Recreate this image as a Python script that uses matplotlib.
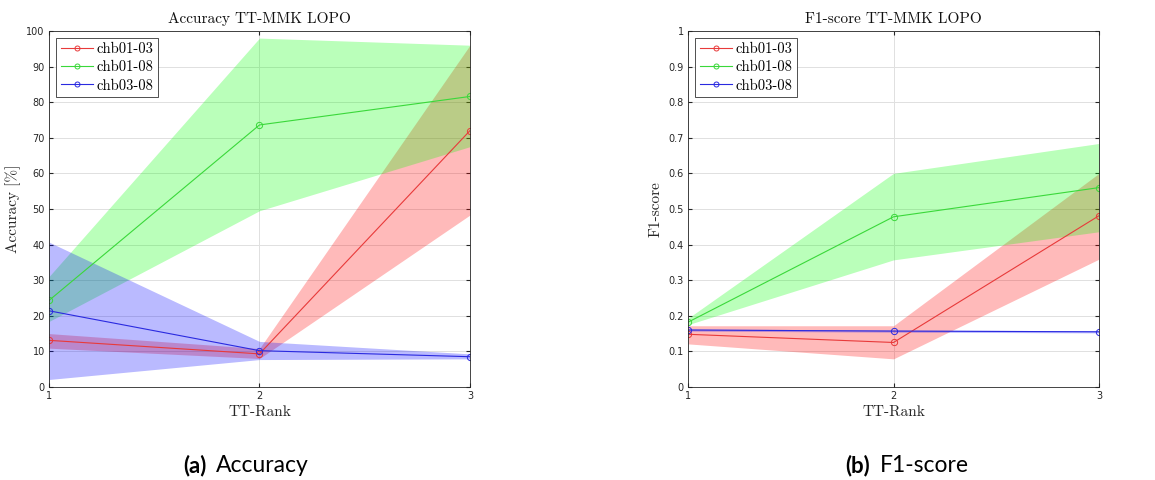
import numpy as np
import matplotlib
matplotlib.use("Agg")
import matplotlib.pyplot as plt

# TT-rank on the x axis
ranks = [1, 2, 3]
labels = ["chb01-03", "chb01-08", "chb03-08"]

# accuracy [%]: mean, upper and lower edge of the shaded band
acc_mean = [[13.1, 9.3, 72.0], [24.3, 73.6, 81.6], [21.4, 10.2, 8.5]]
acc_hi = [[15.0, 10.8, 96.0], [31.0, 98.0, 96.0], [40.7, 12.8, 9.3]]
acc_lo = [[10.9, 8.0, 48.3], [18.4, 49.5, 67.5], [2.1, 7.7, 7.9]]

# F1-score: mean, upper and lower edge of the band
f1_mean = [[0.148, 0.125, 0.481], [0.182, 0.478, 0.560], [0.160, 0.157, 0.155]]
f1_hi = [[0.172, 0.172, 0.600], [0.193, 0.600, 0.684], [0.163, 0.160, 0.158]]
f1_lo = [[0.121, 0.079, 0.359], [0.175, 0.357, 0.436], [0.157, 0.154, 0.152]]

colors = [(1, 0, 0), (0, 1, 0), (0, 0, 1)]
line_colors = ["#e83a3a", "#3ad83a", "#2a2ae0"]

serif = "cmr10"


def panel(ax, mean, hi, lo, ymax, yticks, ytlabels, ylabel, title):
    for k in range(3):
        ax.fill_between(ranks, lo[k], hi[k], color=colors[k], alpha=0.27, linewidth=0)
    for k in range(3):
        ax.plot(ranks, mean[k], color=line_colors[k], lw=0.8, marker="o", ms=4.5,
                mfc="none", mew=0.7, label=labels[k])
    ax.set_xlim(1, 3)
    ax.set_ylim(0, ymax)
    ax.set_xticks(ranks)
    ax.set_yticks(yticks)
    ax.set_yticklabels(ytlabels)
    ax.grid(True, color="#e0e0e0", lw=0.7)
    ax.set_axisbelow(True)
    ax.tick_params(direction="in", length=3, labelsize=7, top=True, right=True,
                   colors="#262626", pad=3)
    for s in ax.spines.values():
        s.set_color("#262626")
        s.set_linewidth(0.6)
    ax.set_xlabel("TT-Rank", family=serif, fontsize=11, labelpad=3, color="#262626")
    ax.set_ylabel(ylabel, family=serif, fontsize=11, labelpad=4, color="#262626")
    ax.set_title(title, family=serif, fontsize=11, pad=6, color="#111111")
    leg = ax.legend(loc="upper left", prop={"family": serif, "size": 10.5},
                    fancybox=False, edgecolor="#333333", framealpha=1,
                    handlelength=2.2, handletextpad=0.25, borderpad=0.3,
                    labelspacing=0.3, borderaxespad=0.5, markerscale=0.8)
    leg.get_frame().set_linewidth(0.6)


fig = plt.figure(figsize=(11.55, 4.8), dpi=100)
ax1 = fig.add_axes([0.0424, 0.1938, 0.3645, 0.7417])
ax2 = fig.add_axes([0.5957, 0.1938, 0.3558, 0.7417])

acc_ticks = list(range(0, 101, 10))
panel(ax1, acc_mean, acc_hi, acc_lo, 100, acc_ticks, [str(t) for t in acc_ticks],
      "Accuracy [%]", "Accuracy TT-MMK LOPO")

f1_ticks = [i / 10 for i in range(11)]
f1_tl = ["0"] + ["%.1f" % t for t in f1_ticks[1:-1]] + ["1"]
panel(ax2, f1_mean, f1_hi, f1_lo, 1, f1_ticks, f1_tl, "F1-score", "F1-score TT-MMK LOPO")

fig.text(0.1585, 0.031, "(a)", ha="left", va="center", fontsize=16,
         family="Lato", weight="bold")
fig.text(0.187, 0.031, "Accuracy", ha="left", va="center", fontsize=16.5, family="Lato")
fig.text(0.7315, 0.031, "(b)", ha="left", va="center", fontsize=16,
         family="Lato", weight="bold")
fig.text(0.762, 0.031, "F1-score", ha="left", va="center", fontsize=16.5, family="Lato")

fig.savefig("out.png", dpi=100)
